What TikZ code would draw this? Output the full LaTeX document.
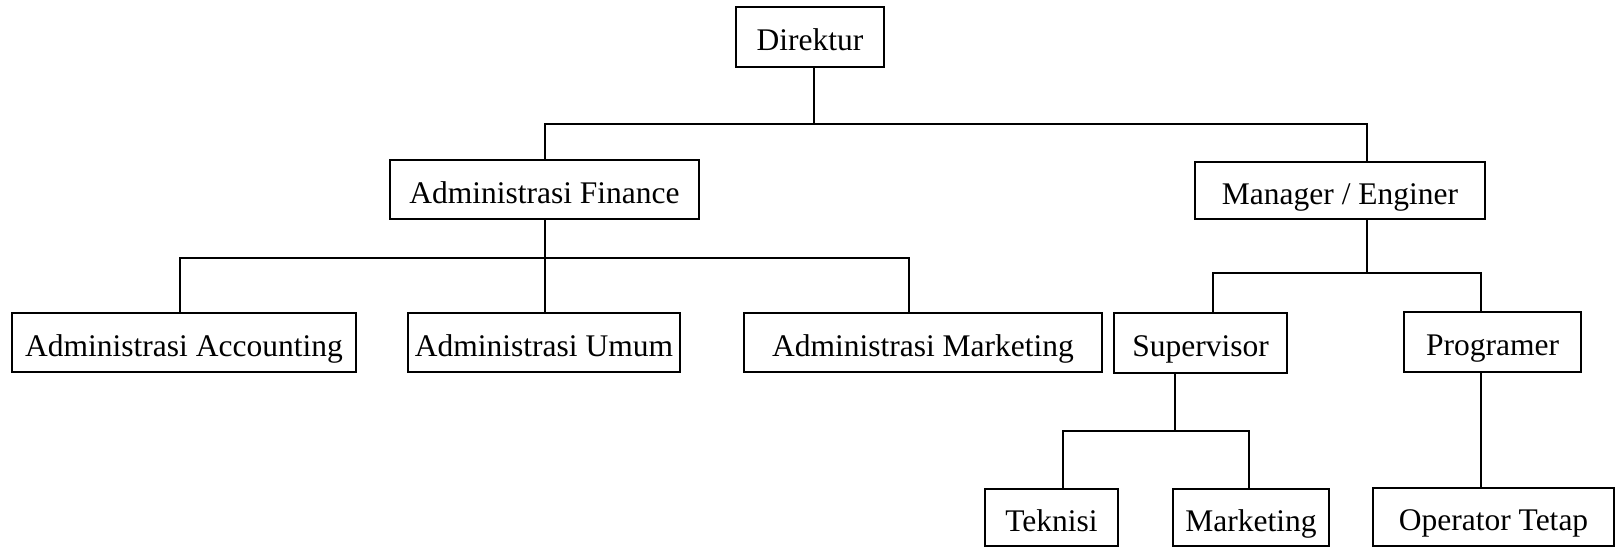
\documentclass[tikz,border=0pt]{standalone}
\usepackage{fontspec}
\setmainfont{Liberation Serif}
\begin{document}
\begin{tikzpicture}[x=1pt,y=-1pt,
  box/.style={draw=black,line width=1.8pt,inner sep=0pt,align=center,
    text height=31pt,text depth=4pt,
    font=\fontsize{31.5}{36}\selectfont},
  link/.style={draw=black,line width=1.8pt}]
\useasboundingbox (0,0) rectangle (1616,550);
% boxes
\node[box,minimum width=148pt,minimum height=60pt] (dir) at (810,37) {Direktur};
\node[box,minimum width=309pt,minimum height=59pt] (fin) at (544.5,189.5) {Administrasi Finance};
\node[box,minimum width=290pt,minimum height=57pt] (mgr) at (1340,190.5) {Manager / Enginer};
\node[box,minimum width=344pt,minimum height=59pt] (acc) at (184,342.5) {Administrasi Accounting};
\node[box,minimum width=272pt,minimum height=59pt] (umum) at (544,342.5) {Administrasi Umum};
\node[box,minimum width=358pt,minimum height=59pt] (amkt) at (923,342.5) {Administrasi Marketing};
\node[box,minimum width=173pt,minimum height=60pt] (sup) at (1200.5,343) {Supervisor};
\node[box,minimum width=177pt,minimum height=60pt] (prog) at (1492.5,342) {Programer};
\node[box,minimum width=133pt,minimum height=57pt] (tek) at (1051.5,517.5) {Teknisi};
\node[box,minimum width=156pt,minimum height=57pt] (mkt) at (1251,517.5) {Marketing};
\node[box,minimum width=241pt,minimum height=58pt] (op) at (1493.5,517) {Operator Tetap};
% junction levels
\coordinate (b1) at (0,124);
\coordinate (b2) at (0,258);
\coordinate (b3) at (0,273);
\coordinate (b4) at (0,431);
% Direktur
\draw[link] ([xshift=4pt]dir.south) -- ([xshift=4pt]dir.south |- b1);
\draw[link] ([xshift=0.5pt]fin.north) -- ([xshift=0.5pt]fin.north |- b1)
  -- ([xshift=27pt]mgr.north |- b1) -- ([xshift=27pt]mgr.north);
% Finance
\draw[link] ([xshift=0.5pt]fin.south) -- ([xshift=0.5pt]fin.south |- b2);
\draw[link] ([xshift=-4pt]acc.north) -- ([xshift=-4pt]acc.north |- b2)
  -- ([xshift=-14pt]amkt.north |- b2) -- ([xshift=-14pt]amkt.north);
\draw[link] ([xshift=1pt]umum.north) -- ([xshift=1pt]umum.north |- b2);
% Manager
\draw[link] ([xshift=27pt]mgr.south) -- ([xshift=27pt]mgr.south |- b3);
\draw[link] ([xshift=12.5pt]sup.north) -- ([xshift=12.5pt]sup.north |- b3)
  -- ([xshift=-11.5pt]prog.north |- b3) -- ([xshift=-11.5pt]prog.north);
% Supervisor
\draw[link] ([xshift=-25.5pt]sup.south) -- ([xshift=-25.5pt]sup.south |- b4);
\draw[link] ([xshift=11.5pt]tek.north) -- ([xshift=11.5pt]tek.north |- b4)
  -- ([xshift=-2pt]mkt.north |- b4) -- ([xshift=-2pt]mkt.north);
% Programer
\draw[link] ([xshift=-11.5pt]prog.south) -- ([xshift=-11.5pt]prog.south |- op.north);
\end{tikzpicture}
\end{document}
